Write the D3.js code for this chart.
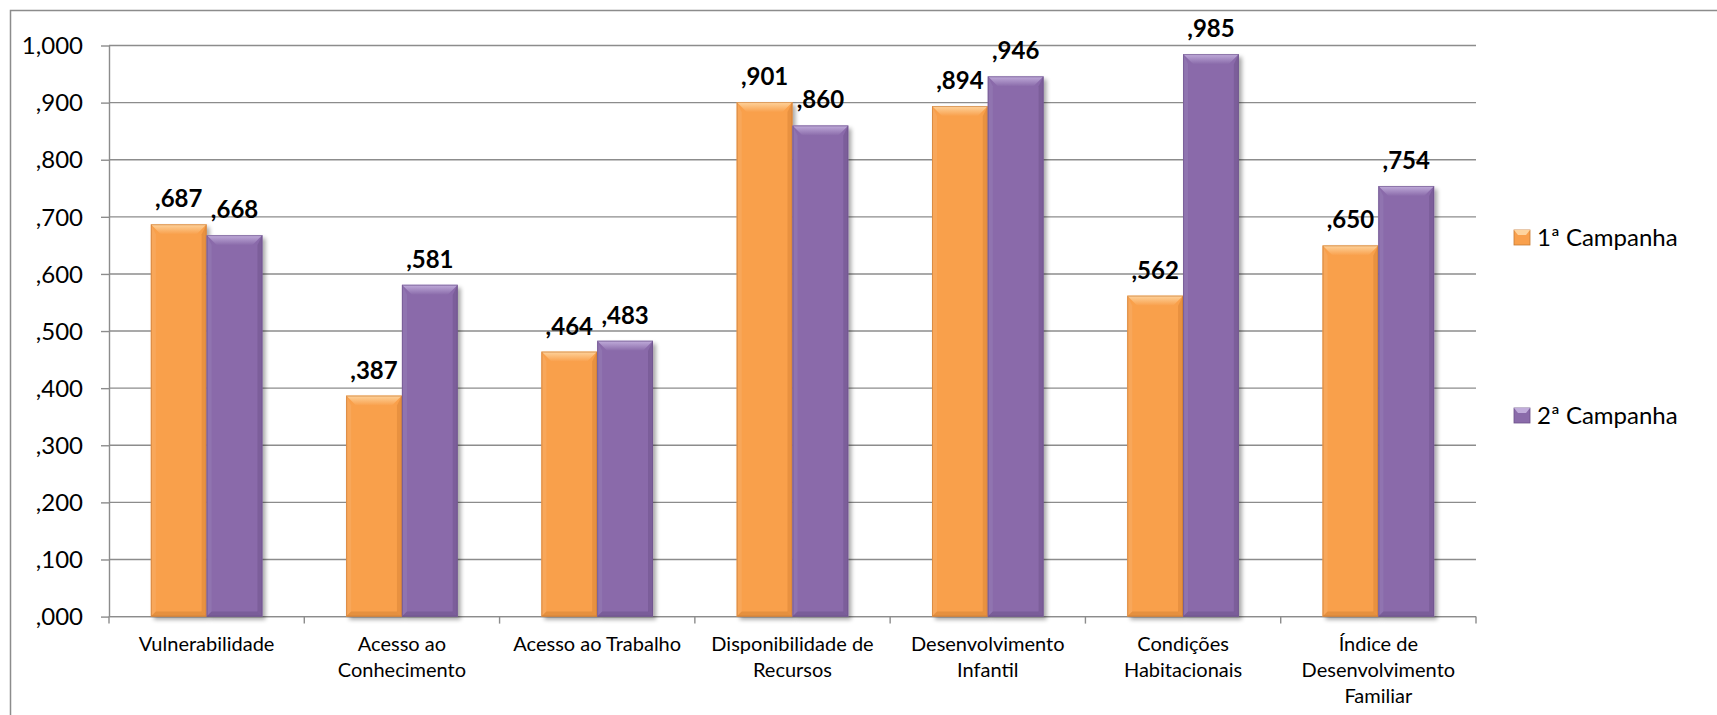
<!DOCTYPE html>
<html>
<head>
<meta charset="utf-8">
<script src="https://cdn.jsdelivr.net/npm/d3@7"></script>
<style>
  html, body { margin: 0; padding: 0; background: #fff; }
  svg { display: block; font-family: Lato, "Open Sans", sans-serif; }
</style>
</head>
<body>
<svg id="chart" width="1717" height="715"></svg>
<script>
// Categories (line breaks where the axis label wraps)
const categories = [
  "Vulnerabilidade",
  "Acesso ao\nConhecimento",
  "Acesso ao Trabalho",
  "Disponibilidade de\nRecursos",
  "Desenvolvimento\nInfantil",
  "Condições\nHabitacionais",
  "Índice de\nDesenvolvimento\nFamiliar"
];
const seriesNames = ["1ª Campanha", "2ª Campanha"];
const campanha1 = [0.687, 0.387, 0.464, 0.901, 0.894, 0.562, 0.650];
const campanha2 = [0.668, 0.581, 0.483, 0.860, 0.946, 0.985, 0.754];
const yTicks = [0, 0.1, 0.2, 0.3, 0.4, 0.5, 0.6, 0.7, 0.8, 0.9, 1.0];

// Portuguese-style number: decimal comma, no leading zero
const fmt = v => {
  const s = d3.format(".3f")(v).replace(".", ",");
  return s.startsWith("0,") ? s.slice(1) : s;
};

const palette = [
  { base: "#f9a04c", light: "#fed49e", side: "#f7a75c", dark: "#d27f34", edge: "#c67a35" },
  { base: "#8a6baa", light: "#c1addb", side: "#9075b0", dark: "#6a5088", edge: "#6b5289" }
];

const svg = d3.select("#chart");
const plot = { left: 109, right: 1476, top: 45.5, bottom: 616.6 };

const x = d3.scaleBand().domain(d3.range(categories.length))
  .range([plot.left, plot.right]).paddingInner(0).paddingOuter(0);
const xs = d3.scaleBand().domain([0, 1]).range([0, x.bandwidth()])
  .paddingInner(0).paddingOuter(0.75);
const y = d3.scaleLinear().domain([0, 1]).range([plot.bottom, plot.top]);

// Outer frame of the chart area
svg.append("rect")
  .attr("x", 10.5).attr("y", 10.5).attr("width", 1720).attr("height", 720)
  .attr("fill", "none").attr("stroke", "#8c8c8c").attr("stroke-width", 1.5);

// Drop shadow for bars
const defs = svg.append("defs");
const sh = defs.append("filter").attr("id", "shadow")
  .attr("x", "-20%").attr("y", "-10%").attr("width", "150%").attr("height", "130%");
sh.append("feGaussianBlur").attr("in", "SourceAlpha").attr("stdDeviation", 2.2).attr("result", "b");
sh.append("feOffset").attr("in", "b").attr("dx", 2.5).attr("dy", 2.5).attr("result", "o");
sh.append("feComponentTransfer").attr("in", "o").attr("result", "s")
  .append("feFuncA").attr("type", "linear").attr("slope", 0.35);
const mg = sh.append("feMerge");
mg.append("feMergeNode").attr("in", "s");
mg.append("feMergeNode").attr("in", "SourceGraphic");

palette.forEach((p, i) => {
  const gt = defs.append("linearGradient").attr("id", "top" + i)
    .attr("x1", 0).attr("y1", 0).attr("x2", 0).attr("y2", 1);
  gt.append("stop").attr("offset", "0%").attr("stop-color", p.light);
  gt.append("stop").attr("offset", "100%").attr("stop-color", p.base);
});

// Horizontal gridlines
const yAxis = d3.axisLeft(y).tickValues(yTicks).tickFormat(fmt).tickSize(8).tickSizeOuter(0);
svg.append("g").attr("class", "grid")
  .selectAll("line").data(yTicks).join("line")
  .attr("x1", plot.left).attr("x2", plot.right)
  .attr("y1", d => y(d)).attr("y2", d => y(d))
  .attr("stroke", "#8c8c8c").attr("stroke-width", 1.4);

const gy = svg.append("g").attr("transform", `translate(${plot.left},0)`).call(yAxis);
gy.select(".domain").attr("stroke", "#8c8c8c").attr("stroke-width", 1.4);
gy.selectAll(".tick line").attr("stroke", "#8c8c8c").attr("stroke-width", 1.4);
gy.selectAll(".tick text").attr("x", -26).attr("dy", "0.34em")
  .attr("font-size", 24).attr("fill", "#000").attr("font-family", "Lato, sans-serif");

// Category axis with ticks between categories
const bounds = d3.range(categories.length + 1).map(i => plot.left + i * x.step());
const gx = svg.append("g");
gx.append("line").attr("x1", plot.left).attr("x2", plot.right)
  .attr("y1", plot.bottom).attr("y2", plot.bottom)
  .attr("stroke", "#8c8c8c").attr("stroke-width", 1.4);
gx.selectAll("line.tk").data(bounds).join("line").attr("class", "tk")
  .attr("x1", d => d).attr("x2", d => d)
  .attr("y1", plot.bottom).attr("y2", plot.bottom + 7)
  .attr("stroke", "#8c8c8c").attr("stroke-width", 1.4);
gx.selectAll("text").data(categories).join("text")
  .attr("text-anchor", "middle")
  .attr("font-size", 20).attr("fill", "#000")
  .each(function (d, i) {
    const t = d3.select(this);
    d.split("\n").forEach((line, k) => {
      t.append("tspan").attr("x", x(i) + x.bandwidth() / 2)
        .attr("y", 651 + k * 26).text(line);
    });
  });

// Bars with bevelled edges
const series = [campanha1, campanha2];
const bars = svg.append("g");
series.forEach((vals, si) => {
  const p = palette[si];
  vals.forEach((v, ci) => {
    const x0 = x(ci) + xs(si), w = xs.bandwidth();
    const y0 = y(v), h = y(0) - y(v);
    const g = bars.append("g");
    g.append("rect").attr("x", x0).attr("y", y0).attr("width", w).attr("height", h)
      .attr("fill", p.base).attr("filter", "url(#shadow)");
    const bt = 10, bs = 5, bb = 5;
    const x1 = x0 + w, y1 = y0 + h;
    // top bevel
    g.append("polygon").attr("points",
      `${x0},${y0} ${x1},${y0} ${x1 - bs * 2},${y0 + bt} ${x0 + bs * 2},${y0 + bt}`)
      .attr("fill", `url(#top${si})`);
    // left bevel
    g.append("polygon").attr("points",
      `${x0},${y0} ${x0 + bs},${y0 + bt} ${x0 + bs},${y1 - bb} ${x0},${y1}`)
      .attr("fill", p.side).attr("opacity", 0.9);
    // right bevel
    g.append("polygon").attr("points",
      `${x1},${y0} ${x1 - bs},${y0 + bt} ${x1 - bs},${y1 - bb} ${x1},${y1}`)
      .attr("fill", p.dark).attr("opacity", 0.45);
    // bottom bevel
    g.append("polygon").attr("points",
      `${x0},${y1} ${x0 + bs},${y1 - bb} ${x1 - bs},${y1 - bb} ${x1},${y1}`)
      .attr("fill", p.dark).attr("opacity", 0.5);
    g.append("rect").attr("x", x0 + 0.5).attr("y", y0 + 0.5).attr("width", w - 1).attr("height", h - 1)
      .attr("fill", "none").attr("stroke", p.edge).attr("stroke-width", 1).attr("opacity", 0.6);
    // value label
    svg.append("text")
      .attr("x", x0 + w / 2).attr("y", y0 - 17)
      .attr("text-anchor", "middle").attr("font-size", 24).attr("font-weight", "bold")
      .attr("fill", "#000").text(fmt(v));
  });
});

// Legend
const legendY = [230, 408];
const leg = svg.append("g");
seriesNames.forEach((name, si) => {
  const p = palette[si];
  const gy0 = legendY[si];
  leg.append("rect").attr("x", 1514).attr("y", gy0).attr("width", 16).attr("height", 15)
    .attr("fill", p.base).attr("stroke", p.edge).attr("stroke-width", 0.8);
  leg.append("polygon").attr("points",
    `${1514},${gy0} ${1530},${gy0} ${1526},${gy0 + 5} ${1518},${gy0 + 5}`)
    .attr("fill", p.light);
  leg.append("text").attr("x", 1537).attr("y", gy0 + 16)
    .attr("font-size", 24).attr("fill", "#000").text(name);
});
</script>
</body>
</html>
